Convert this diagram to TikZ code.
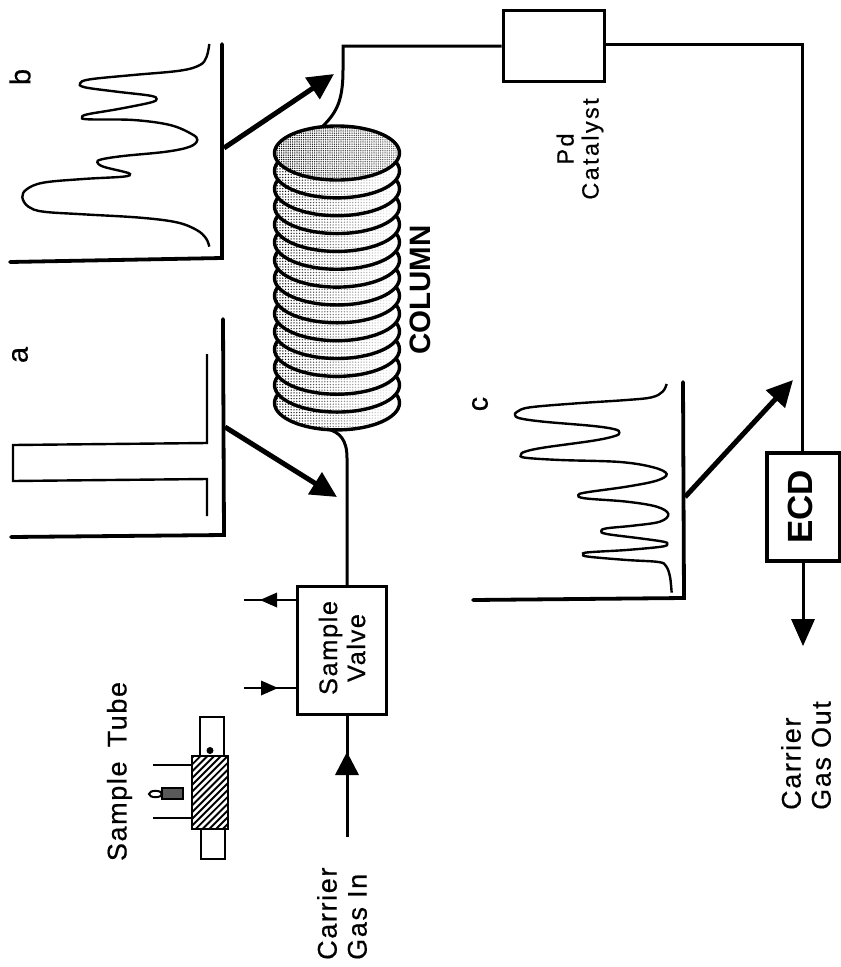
\documentclass[tikz,border=0pt]{standalone}
\usepackage{fontspec}
\setmainfont{Liberation Sans}
\newfontfamily\spaced[LetterSpace=6,FakeBold=0.5]{Liberation Sans}
\newfontfamily\spacedw[LetterSpace=10,FakeBold=0.5]{Liberation Sans}
\usetikzlibrary{arrows.meta,patterns.meta,calc,fadings}
\tikzset{
  axisline/.style={line width=3.8pt,line cap=round,line join=miter},
  trace/.style={line width=2.4pt},
  tube/.style={line width=3pt},
  bigarrow/.style={line width=5pt,-{Triangle[length=26pt,width=25pt]}},
  flowarrow/.style={line width=2.4pt},
  boxnode/.style={draw,line width=3pt,inner sep=0pt,fill=white},
  lab/.style={rotate=90,align=center,inner sep=0pt,font=\spaced\fontsize{27}{30}\selectfont},
  pk/.style={rotate=90,inner sep=0pt,font=\spaced\fontsize{29}{30}\selectfont},
}
\newcommand{\bandat}[3]{%
  \fill[white] (337,#1) ellipse [x radius=62.5,y radius=27];
  \fill[pattern={Dots[distance=#2pt,radius=0.75pt]}] (337,#1) ellipse [x radius=62.5,y radius=27];
  \fill[white,fill opacity=#3,path fading=west] (337,#1) ellipse [x radius=62.5,y radius=27];
  \draw[line width=3.4pt] (337,#1) ellipse [x radius=62.5,y radius=27];
}
\begin{document}
\begin{tikzpicture}[x=1pt,y=-1pt]
\useasboundingbox (0,0) rectangle (841,967);
% column
\foreach \k in {14,13,...,1}{
  \pgfmathsetmacro{\yy}{180+17.85*\k-27}
  \bandat{\yy}{2.8}{1}
}
\node[inner sep=0pt] (coltop) at (323,126) {};
\node[inner sep=0pt] (colbot) at (327,429) {};
\bandat{153}{2.2}{0.45}
\node[lab,font=\bfseries\fontsize{29.5}{34}\selectfont] (collab) at (420.5,290) {COLUMN};
% boxes
\node[boxnode,minimum width=89pt,minimum height=128pt] (valve) at (341.5,650) {};
\node[lab,font=\spaced\fontsize{25.5}{28}\selectfont] (valvelab) at (342,648) {Sample\\Valve};
\node[boxnode,minimum width=101pt,minimum height=71pt] (cat) at (553.5,45.5) {};
\node[boxnode,line width=3.4pt,minimum width=73pt,minimum height=108pt] (ecd) at (803.5,507) {};
\node[lab,font=\bfseries\fontsize{35}{40}\selectfont] (ecdlab) at (800,507) {ECD};
% tubing
\coordinate (bend) at (343,46);
\draw[tube] (coltop.center) .. controls (337,112) and (343,100) .. (343,70) -- (bend) -- (bend -| cat.west);
\draw[tube] (colbot.center) .. controls (340,432) and (347,440) .. (347,458) -- (347,586);
\coordinate (junc) at (802,44);
\draw[tube] (cat.east |- junc) -- (junc) -- (802,453);
% flow arrows
\coordinate (carrierin) at (347,837);
\draw[tube] (carrierin) -- (347,714);
\fill (347,752) -- (359,775) -- (335,775) -- cycle;
\coordinate (gasout) at (803,646);
\draw[tube] (803,561) -- (803,620);
\fill (gasout) -- (791,619) -- (815,619) -- cycle;
% valve side ports
\coordinate (portA) at (244,600);
\coordinate (portB) at (244,688);
\draw[flowarrow] (valve.west |- portA) -- (portA);
\fill (260,600) -- (277,592.5) -- (277,607.5) -- cycle;
\draw[flowarrow] (portB) -- (valve.west |- portB);
\fill (278,688) -- (261,680.5) -- (261,695.5) -- cycle;
% chromatogram a
\coordinate (aCorner) at (224,535);
\draw[axisline] (223,319) -- (aCorner) -- (11,537);
\draw[trace] (207,354) -- (207,443) -- (13,445) -- (13,481) -- (207,479) -- (207,516);
\coordinate (aFrom) at (225,427);
\coordinate (aTip) at (337,497);
\draw[bigarrow] (aFrom) -- (aTip);
% chromatogram b
\coordinate (bCorner) at (222,258);
\draw[axisline] (222,44) -- (bCorner) -- (10,262);
\begin{scope}[shift={(0,30)},x=0.3333pt,y=-0.3333pt]
\draw[trace] plot[smooth,tension=0.6] coordinates {(628,42)(620,80)(600,105)(540,122)(400,135)(270,148)(240,160)(255,172)(350,185)(450,197)(470,207)(450,218)(350,238)(262,253)(246,262)(265,268)(400,270)(510,285)(575,312)(592,330)(570,350)(500,365)(370,378)(305,388)(292,397)(310,410)(370,425)(390,432)(370,440)(250,447)(130,458)(80,478)(67,502)(85,530)(130,545)(250,553)(420,563)(530,577)(590,600)(618,625)(628,650)};
\end{scope}
\coordinate (bFrom) at (224,148);
\coordinate (bTip) at (334,74);
\draw[bigarrow] (bFrom) -- (bTip);
% chromatogram c
\coordinate (cCorner) at (684,598);
\draw[axisline] (683,382) -- (cCorner) -- (473,600);
\begin{scope}[shift={(460,360)},x=0.3333pt,y=-0.3333pt]
\draw[trace] plot[smooth,tension=0.6] coordinates {(620,72)(608,95)(575,112)(500,120)(350,130)(210,142)(172,155)(165,165)(180,175)(250,185)(400,198)(465,208)(478,218)(465,228)(400,242)(250,263)(195,275)(183,284)(195,293)(300,300)(480,306)(580,322)(620,342)(590,362)(500,380)(380,397)(355,405)(375,415)(500,425)(590,440)(625,462)(600,485)(520,497)(440,505)(424,513)(440,522)(540,535)(610,545)(622,552)(605,560)(500,570)(385,577)(370,583)(385,590)(500,600)(595,606)(618,618)(630,650)(635,698)};
\end{scope}
\coordinate (cFrom) at (685,497);
\coordinate (cTip) at (793,380);
\draw[bigarrow] (cFrom) -- (cTip);
% sample tube
\draw[line width=1.9pt] (200,755) -- (200,717) -- (224,717) -- (224,755);
\draw[line width=1.9pt] (201,830) -- (201,859) -- (225,859) -- (225,830);
\node[inner sep=0pt,minimum width=36pt,minimum height=73pt] (tubebody) at (210,792.5) {};
\begin{scope}
\clip (tubebody.south west) rectangle (tubebody.north east);
\foreach \d in {0,6.8,...,115}{
  \draw[line width=1.9pt] (186,{757+\d}) -- (232,{711+\d});
}
\end{scope}
\draw[line width=2.4pt] (tubebody.south west) rectangle (tubebody.north east);
\fill (210,750.5) circle (3.5);
\coordinate (leadA) at (153,765);
\coordinate (leadB) at (153,818);
\draw[line width=1.7pt] (leadA) -- (leadA -| tubebody.west);
\draw[line width=1.7pt] (leadB) -- (leadB -| tubebody.west);
\fill[black!65] (162,788) rectangle (183,799);
\draw[line width=2.2pt] (183,788) rectangle (162,799);
\draw[line width=2pt,fill=white] (155.5,794) ellipse [x radius=6.5,y radius=3.2];
% text
\node[lab] (tubelab) at (119.5,771.5) {Sample\hspace{5pt} Tube};
\node[lab,align=left,anchor=west] (inlab) at (342,960) {Carrier\\Gas In};
\node[lab,align=left,anchor=west] (outlab) at (806,810) {Carrier\\Gas Out};
\node[lab,font=\spacedw\fontsize{23.5}{25}\selectfont] (catlab) at (580,149) {Pd\\Catalyst};
\node[pk] (labA) at (20,355) {a};
\node[pk] (labB) at (20,77) {b};
\node[pk] (labC) at (480,404) {c};
\end{tikzpicture}
\end{document}
